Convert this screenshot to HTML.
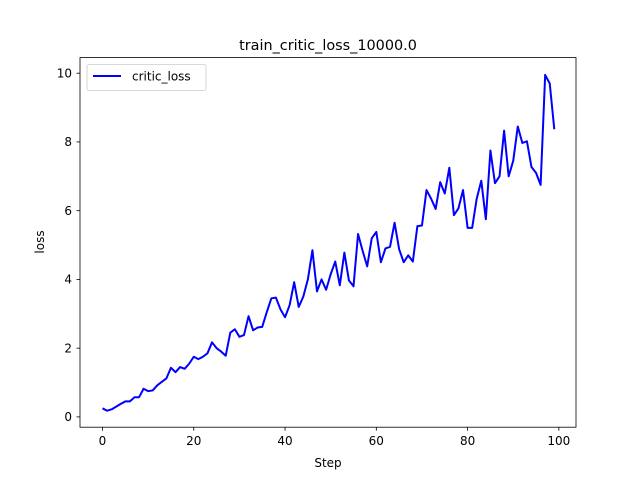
<!DOCTYPE html>
<html><head><meta charset="utf-8"><style>
body{margin:0;background:#fff}
svg{display:block;font-family:"DejaVu Sans","Liberation Sans",sans-serif}
</style></head><body>
<svg id="chart" width="640" height="480" viewBox="0 0 640 480">
<rect width="640" height="480" fill="#fff"/>
<text x="328" y="50" font-size="14.4" text-anchor="middle">train_critic_loss_10000.0</text>
<g id="ticks"></g>
<polyline id="line" fill="none" stroke="#0000ff" stroke-width="2" stroke-linejoin="round"/>
<rect x="80" y="57.6" width="496" height="369.6" fill="none" stroke="#000" stroke-width="0.8"/>
<text x="328" y="467" font-size="12" text-anchor="middle">Step</text>
<text transform="translate(44,242) rotate(-90)" font-size="12" text-anchor="middle">loss</text>
<g>
<rect x="87" y="64.6" width="119" height="26" rx="2" fill="#fff" stroke="#ccc" stroke-width="0.8"/>
<line x1="93" y1="76" x2="121" y2="76" stroke="#0000ff" stroke-width="2"/>
<text x="132" y="80.5" font-size="12">critic_loss</text>
</g>
</svg>
<script>
const steps=[];for(let i=0;i<100;i++)steps.push(i);
const lossValues=[0.25,0.18,0.22,0.3,0.38,0.45,0.45,0.57,0.57,0.82,0.75,0.77,0.92,1.02,1.12,1.43,1.3,1.45,1.4,1.55,1.75,1.68,1.75,1.85,2.17,2.0,1.9,1.78,2.45,2.55,2.33,2.38,2.93,2.52,2.6,2.62,3.05,3.45,3.47,3.13,2.9,3.25,3.92,3.2,3.5,4.0,4.85,3.65,4.0,3.7,4.15,4.52,3.83,4.78,3.97,3.8,5.32,4.83,4.38,5.2,5.38,4.5,4.9,4.95,5.65,4.88,4.5,4.7,4.52,5.55,5.57,6.6,6.35,6.05,6.83,6.5,7.25,5.87,6.07,6.6,5.5,5.5,6.35,6.87,5.75,7.75,6.8,7.0,8.33,7.0,7.45,8.45,7.97,8.02,7.27,7.1,6.75,9.95,9.7,8.37];
const xTicks=[0,20,40,60,80,100];
const yTicks=[0,2,4,6,8,10];
const xs=v=>102.5+v*4.5636;
const ys=v=>416.9-v*34.37;
const ns="http://www.w3.org/2000/svg";
const line=document.getElementById('line');
line.setAttribute('points',lossValues.map((v,i)=>xs(steps[i]).toFixed(2)+','+ys(v).toFixed(2)).join(' '));
const g=document.getElementById('ticks');
xTicks.forEach(t=>{
 const l=document.createElementNS(ns,'line');
 
 
 l.setAttribute('x1',xs(t));l.setAttribute('x2',xs(t));l.setAttribute('y1',427.2);l.setAttribute('y2',430.7);l.setAttribute('stroke','#000');l.setAttribute('stroke-width','0.8');g.appendChild(l);
 const tx=document.createElementNS(ns,'text');
 
 
 tx.setAttribute('x',xs(t));tx.setAttribute('y',445);tx.setAttribute('font-size','12');tx.setAttribute('text-anchor','middle');tx.textContent=t;g.appendChild(tx);
});
yTicks.forEach(t=>{
 const l=document.createElementNS(ns,'line');
 
 
 l.setAttribute('x1',76.5);l.setAttribute('x2',80);l.setAttribute('y1',ys(t));l.setAttribute('y2',ys(t));l.setAttribute('stroke','#000');l.setAttribute('stroke-width','0.8');g.appendChild(l);
 const tx=document.createElementNS(ns,'text');
 
 
 tx.setAttribute('x',72);tx.setAttribute('y',ys(t)+4.3);tx.setAttribute('font-size','12');tx.setAttribute('text-anchor','end');tx.textContent=t;g.appendChild(tx);
});
</script>
</body></html>
